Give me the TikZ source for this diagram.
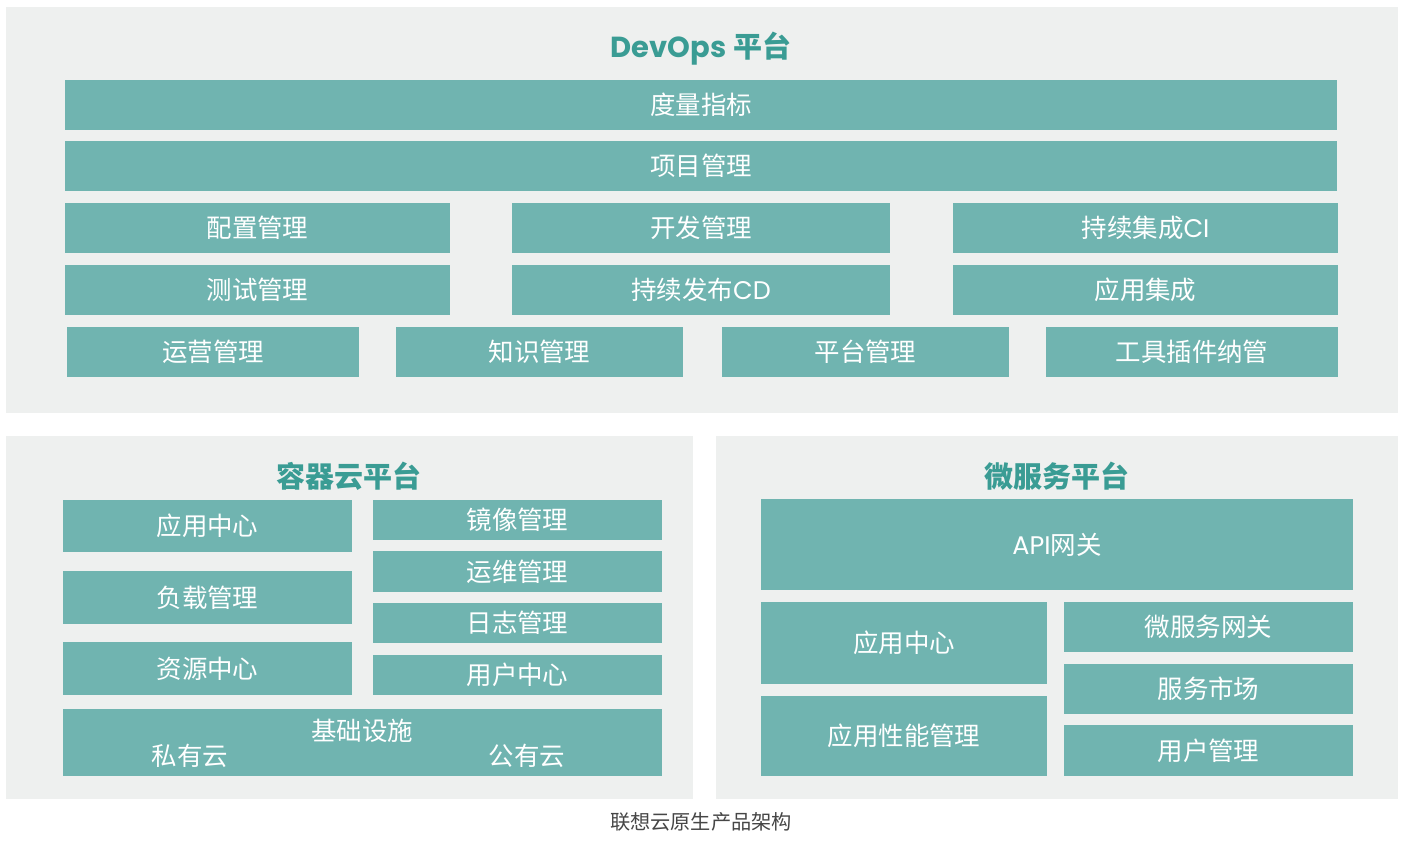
\documentclass[tikz,border=0pt]{standalone}
\usepackage{fontspec}
\setmainfont{Noto Sans CJK SC}
\newfontfamily\latinf{Poppins}
\usetikzlibrary{positioning,fit}
\definecolor{tealbox}{RGB}{112,180,176}
\definecolor{tealdark}{RGB}{58,156,148}
\definecolor{panelgray}{RGB}{238,240,239}
\definecolor{captiongray}{RGB}{70,70,70}

\begin{document}
\begin{tikzpicture}[x=0.02cm,y=-0.02cm,
    panel/.style={fill=panelgray,inner sep=0pt},
    txt/.style={inner sep=0pt,text=white,font=\fontsize{14.5}{16}\selectfont},
    blk/.style={fill=tealbox,inner sep=0pt,label={[txt]center:#1}},
    blk/.default={},
    ttl/.style={text=tealdark,font=\fontsize{16.5}{18}\selectfont\bfseries}]
  \useasboundingbox (0,0) rectangle (1405,841);

  % DevOps platform
  \node[panel,fit={(6,7) (1398,413)}] (devops) {};
  \node[ttl] (devopsttl) at (701,49) {{\latinf DevOps} 平台};
  \node[blk=度量指标,fit={(65,80) (1337,130)}] (metric) {};
  \node[blk=项目管理,fit={(65,141) (1337,191)}] (project) {};
  \node[blk=配置管理,fit={(65,203) (450,253)}] (config) {};
  \node[blk=开发管理,fit={(512,203) (890,253)}] (devmgmt) {};
  \node[blk={持续集成{\latinf CI}},fit={(953,203) (1338,253)}] (ci) {};
  \node[blk=测试管理,fit={(65,265) (450,315)}] (test) {};
  \node[blk={持续发布{\latinf CD}},fit={(512,265) (890,315)}] (cd) {};
  \node[blk=应用集成,fit={(953,265) (1338,315)}] (appint) {};
  \node[blk=运营管理,fit={(67,327) (359,377)}] (ops) {};
  \node[blk=知识管理,fit={(396,327) (683,377)}] (know) {};
  \node[blk=平台管理,fit={(722,327) (1009,377)}] (platmgmt) {};
  \node[blk=工具插件纳管,fit={(1046,327) (1338,377)}] (plugin) {};

  % container cloud platform
  \node[panel,fit={(6,436) (693,799)}] (container) {};
  \node[ttl] (containerttl) at (349,476) {容器云平台};
  \node[blk=应用中心,fit={(63,500) (352,552)}] (cappcenter) {};
  \node[blk=负载管理,fit={(63,571) (352,624)}] (workload) {};
  \node[blk=资源中心,fit={(63,642) (352,695)}] (rescenter) {};
  \node[blk=镜像管理,fit={(373,500) (662,540)}] (image) {};
  \node[blk=运维管理,fit={(373,551) (662,592)}] (opsmaint) {};
  \node[blk=日志管理,fit={(373,603) (662,643)}] (log) {};
  \node[blk=用户中心,fit={(373,655) (662,695)}] (usercenter) {};
  \node[blk,fit={(63,709) (662,776)}] (infra) {};
  \node[txt] (infrattl) at (362,731) {基础设施};
  \node[txt] (private) at (190,756) {私有云};
  \node[txt] (public) at (527,756) {公有云};

  % microservice platform
  \node[panel,fit={(716,436) (1398,799)}] (micro) {};
  \node[ttl] (microttl) at (1057,476) {微服务平台};
  \node[blk={{\latinf API}网关},fit={(761,499) (1353,590)}] (apigw) {};
  \node[blk=应用中心,fit={(761,602) (1047,684)}] (mappcenter) {};
  \node[blk=应用性能管理,fit={(761,696) (1047,776)}] (apm) {};
  \node[blk=微服务网关,fit={(1064,602) (1353,652)}] (msgw) {};
  \node[blk=服务市场,fit={(1064,664) (1353,714)}] (market) {};
  \node[blk=用户管理,fit={(1064,725) (1353,776)}] (usermgmt) {};

  \node[text=captiongray,font=\fontsize{11.5}{13}\selectfont] (caption)
    at (701,822) {联想云原生产品架构};
\end{tikzpicture}
\end{document}
